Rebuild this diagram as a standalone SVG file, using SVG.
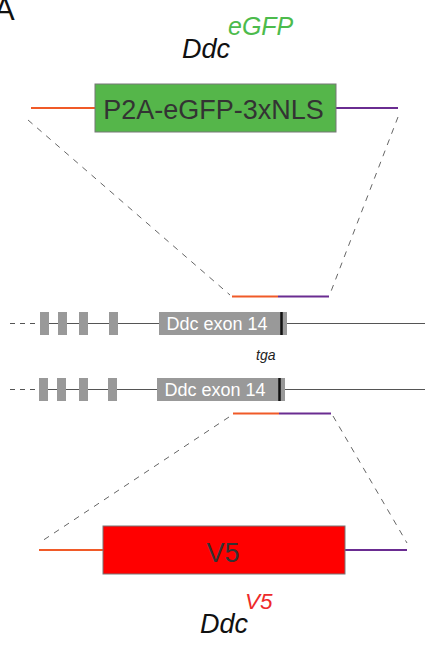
<svg xmlns="http://www.w3.org/2000/svg" width="425" height="646" viewBox="0 0 425 646">
  <style>
    text { font-family: "Liberation Sans", Arial, sans-serif; }
    .ital { font-style: italic; }
    .dash { stroke: #666; stroke-width: 1; stroke-dasharray: 6 6; fill: none; }
    .arm5 { stroke: #f05a28; stroke-width: 2.2; }
    .arm3 { stroke: #6a2c91; stroke-width: 2.2; }
    .intron { stroke: #555; stroke-width: 1; }
    .exon { fill: #999; }
    .stop { stroke: #111; stroke-width: 2.5; }
  </style>
  <rect width="425" height="646" fill="#fff"/>

  <!-- panel letter -->
  <text x="-6" y="20" font-size="31" fill="#111">A</text>

  <!-- eGFP knock-in allele -->
  <g id="egfp-allele">
    <text x="228" y="35" font-size="25" class="ital" fill="#4cbb4c">eGFP</text>
    <text x="182" y="58" font-size="27" class="ital" fill="#111">Ddc</text>
    <line x1="31" y1="108" x2="95" y2="108" class="arm5"/>
    <line x1="336" y1="108" x2="398" y2="108" class="arm3"/>
    <rect x="95" y="84" width="241" height="48" fill="#55b64a" stroke="#777" stroke-width="1"/>
    <text x="213.5" y="119" font-size="27" text-anchor="middle" fill="#333">P2A-eGFP-3xNLS</text>
  </g>

  <!-- homology arms, upper targeting -->
  <g id="arms-upper">
    <line x1="232" y1="296.5" x2="278" y2="296.5" class="arm5"/>
    <line x1="278" y1="296.5" x2="329" y2="296.5" class="arm3"/>
  </g>

  <!-- genomic locus, copy 1 -->
  <g id="locus-1">
    <line x1="10" y1="323.5" x2="40" y2="323.5" class="intron" stroke-dasharray="5 5"/>
    <line x1="40" y1="323.5" x2="425" y2="323.5" class="intron"/>
    <rect x="40" y="312" width="9" height="23" class="exon"/>
    <rect x="58" y="312" width="9" height="23" class="exon"/>
    <rect x="79" y="312" width="9" height="23" class="exon"/>
    <rect x="109" y="312" width="9" height="23" class="exon"/>
    <rect x="159" y="312" width="128" height="23" class="exon"/>
    <line x1="281.5" y1="312" x2="281.5" y2="335" class="stop"/>
    <text x="217" y="330" font-size="18" text-anchor="middle" fill="#fff">Ddc exon 14</text>
  </g>

  <text x="256" y="360" font-size="14" class="ital" fill="#222">tga</text>

  <!-- genomic locus, copy 2 -->
  <g id="locus-2">
    <line x1="10" y1="389.5" x2="39" y2="389.5" class="intron" stroke-dasharray="5 5"/>
    <line x1="39" y1="389.5" x2="425" y2="389.5" class="intron"/>
    <rect x="39" y="378" width="9" height="23" class="exon"/>
    <rect x="57" y="378" width="9" height="23" class="exon"/>
    <rect x="79" y="378" width="9" height="23" class="exon"/>
    <rect x="108" y="378" width="9" height="23" class="exon"/>
    <rect x="157" y="378" width="128" height="23" class="exon"/>
    <line x1="279.5" y1="378" x2="279.5" y2="401" class="stop"/>
    <text x="215" y="396" font-size="18" text-anchor="middle" fill="#fff">Ddc exon 14</text>
  </g>

  <!-- homology arms, lower targeting -->
  <g id="arms-lower">
    <line x1="233" y1="413.5" x2="279" y2="413.5" class="arm5"/>
    <line x1="279" y1="413.5" x2="331" y2="413.5" class="arm3"/>
  </g>

  <!-- V5 knock-in allele -->
  <g id="v5-allele">
    <line x1="39" y1="550" x2="103" y2="550" class="arm5"/>
    <line x1="345" y1="550" x2="407" y2="550" class="arm3"/>
    <rect x="103" y="526" width="242" height="48" fill="#ff0000" stroke="#777" stroke-width="1"/>
    <text x="223" y="562" font-size="27" text-anchor="middle" fill="#333">V5</text>
    <text x="245" y="609" font-size="22.5" class="ital" fill="#ee2a2a">V5</text>
    <text x="200" y="633" font-size="27" class="ital" fill="#111">Ddc</text>
  </g>

  <!-- projection lines -->
  <g id="connectors">
    <line x1="28" y1="120" x2="230" y2="295" class="dash"/>
    <line x1="398" y1="117" x2="330" y2="294" class="dash"/>
    <line x1="229" y1="417" x2="39" y2="543" class="dash"/>
    <line x1="333" y1="416" x2="407" y2="543" class="dash"/>
  </g>
</svg>
